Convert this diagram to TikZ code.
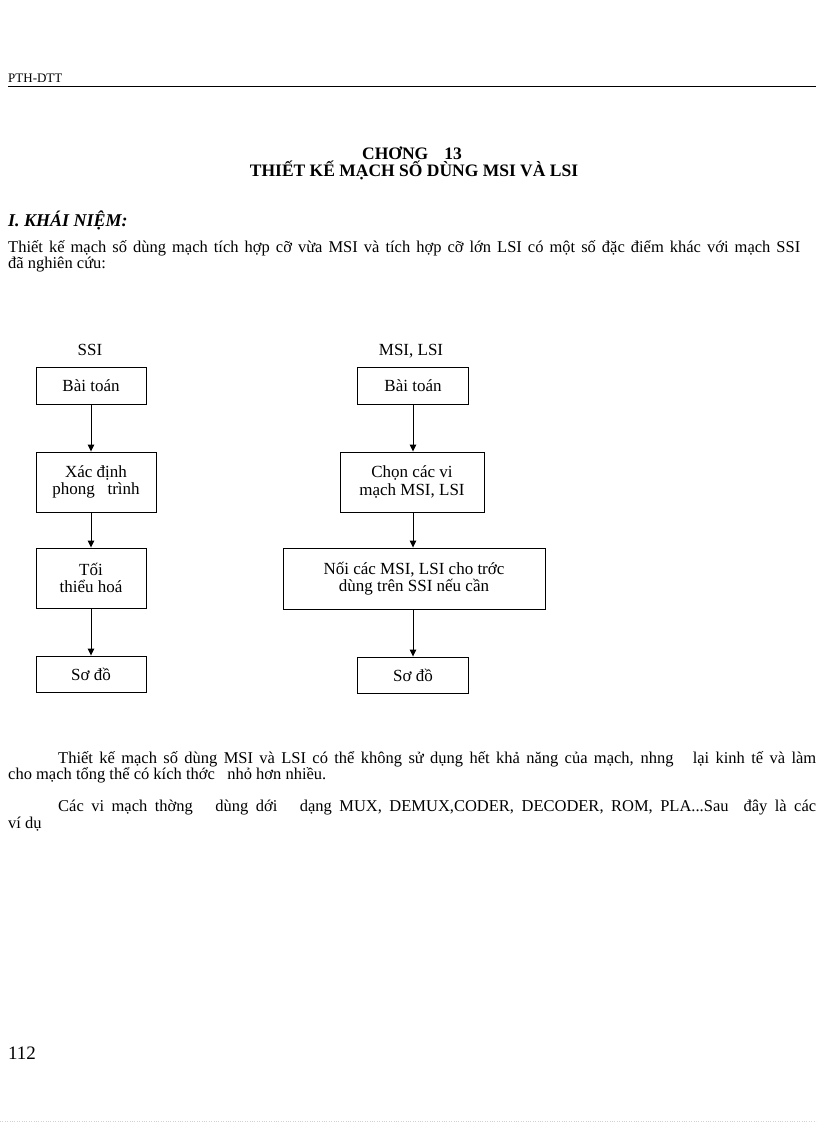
\documentclass[tikz,border=0pt]{standalone}
\usepackage{fontspec}
\setmainfont{Liberation Serif}
\usetikzlibrary{positioning,arrows.meta}

\begin{document}
\begin{tikzpicture}[
    x=1pt, y=-1pt,
    >={Triangle[length=7pt,width=6.5pt]},
    every node/.style={inner sep=0pt},
    textline/.style={anchor=base west, font=\fontsize{16.5}{17}\selectfont},
    stepbox/.style={draw, line width=0.9pt, align=center,
        font=\fontsize{17}{17.5}\selectfont},
    colhead/.style={anchor=base, font=\fontsize{17}{18}\selectfont}
]
\useasboundingbox (0,0) rectangle (816,1123);

% header
\node[anchor=base west, font=\fontsize{13}{14}\selectfont] (hdr) at (8,83) {PTH-DTT};
\draw[line width=0.9pt] (8,86) -- (816,86);

% title
\node[anchor=base, font=\bfseries\fontsize{17.5}{18}\selectfont] (chap) at (412,160) {CHƠNG\hspace{16pt}13};
\node[anchor=base, font=\bfseries\fontsize{17.5}{18}\selectfont] (title) at (414,177) {THIẾT KẾ MẠCH SỐ DÙNG MSI VÀ LSI};

\node[anchor=base west, font=\bfseries\itshape\fontsize{18}{19}\selectfont] (sec) at (8,226) {I. KHÁI NIỆM:};

\node[textline] (p1a) at (8,252) {\makebox[792pt][s]{Thiết kế mạch số dùng mạch tích hợp cỡ vừa MSI và tích hợp cỡ lớn LSI có một số đặc điểm khác với mạch SSI}};
\node[textline] (p1b) at (8,268) {đã nghiên cứu:};

% flow charts
\node[colhead] (hssi) at (90,355) {SSI};
\node[colhead] (hmsi) at (411,355) {MSI, LSI};

\node[stepbox, minimum width=110pt, minimum height=37pt] (l1) at (91,386) {Bài toán};
\node[stepbox, minimum width=120pt, minimum height=60pt] (l2) at (96,482) {Xác định\\phong\ \ \ trình};
\node[stepbox, minimum width=110pt, minimum height=60pt] (l3) at (91,578) {Tối\\thiểu hoá};
\node[stepbox, minimum width=110pt, minimum height=36pt] (l4) at (91,674) {Sơ đồ};

\node[stepbox, minimum width=111pt, minimum height=37pt] (r1) at (413,386) {Bài toán};
\node[stepbox, minimum width=144pt, minimum height=60pt] (r2) at (412,482) {Chọn các vi\\mạch MSI, LSI};
\node[stepbox, minimum width=262pt, minimum height=61pt] (r3) at (414,578.5) {Nối các MSI, LSI cho trớc\\ dùng trên SSI nếu cần};
\node[stepbox, minimum width=111pt, minimum height=36pt] (r4) at (413,675) {Sơ đồ};

\path[->, line width=0.9pt]
(l1) edge (l2.north -| l1)
(l2.south -| l3) edge (l3)
(l3) edge (l4)
(r1) edge (r2.north -| r1)
(r2.south -| r1) edge (r3.north -| r1)
(r3.south -| r4) edge (r4);

% text below
\node[textline] (p2a) at (58,763) {\makebox[758pt][s]{Thiết kế mạch số dùng MSI và LSI có thể không sử dụng hết khả năng của mạch, nhng\ \ \ lại kinh tế và làm}};
\node[textline] (p2b) at (8,779) {cho mạch tổng thể có kích thớc\ \ \ nhỏ hơn nhiều.};
\node[textline] (p3a) at (58,811) {\makebox[758pt][s]{Các vi mạch thờng\ \ \ dùng dới\ \ \ dạng MUX, DEMUX,CODER, DECODER, ROM, PLA...Sau\ \ đây là các}};
\node[textline] (p3b) at (8,828) {ví dụ};

\node[anchor=base west, font=\fontsize{19}{20}\selectfont] (pg) at (8,1059) {112};
\draw[gray!35, dotted] (0,1121) -- (816,1121);
\end{tikzpicture}
\end{document}
